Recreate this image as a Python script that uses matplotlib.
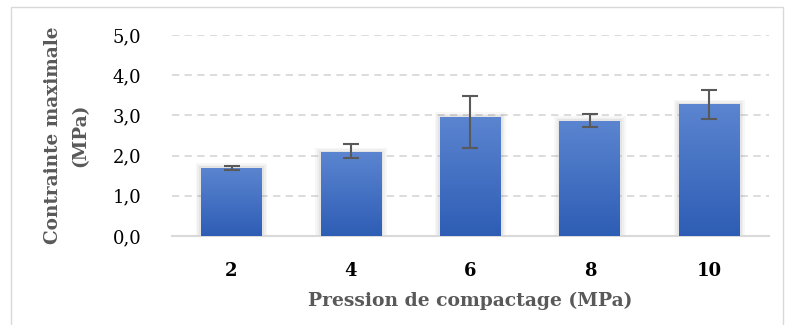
import numpy as np
import matplotlib
matplotlib.use('Agg')
import matplotlib.pyplot as plt
from matplotlib.patches import Rectangle

# pression de compactage (MPa) et contrainte maximale (MPa)
pression = ['2', '4', '6', '8', '10']
contrainte = [1.70, 2.08, 2.97, 2.87, 3.28]
err_bas = [0.06, 0.14, 0.79, 0.16, 0.37]
err_haut = [0.05, 0.21, 0.52, 0.17, 0.35]
yticks = [0.0, 1.0, 2.0, 3.0, 4.0, 5.0]

plt.rcParams['font.family'] = ['DejaVu Serif']

fig = plt.figure(figsize=(7.88, 3.25), dpi=100)
ax = fig.add_axes([0.218, 0.274, 0.758, 0.618])

x = np.arange(len(pression))
w = 0.51

# ombre legere autour des barres
for xi, v in zip(x, contrainte):
    for k, a in [(0.045, 0.05), (0.03, 0.06), (0.015, 0.08)]:
        ax.add_patch(Rectangle((xi - w / 2 - k, 0), w + 2 * k, v + k * 2.5,
                               color='#6f6f6f', alpha=a, lw=0, zorder=2))

bars = ax.bar(x, contrainte, width=w, color='#4472C4', zorder=3)

# degrade vertical dans chaque barre
grad = np.linspace(0, 1, 256).reshape(-1, 1)
cmap = matplotlib.colors.LinearSegmentedColormap.from_list('g', ['#2E5DB5', '#5B85D0'])
for b in bars:
    bx, by = b.get_x(), b.get_y()
    im = ax.imshow(grad, cmap=cmap, aspect='auto', origin='lower',
                   extent=[bx, bx + b.get_width(), by, by + b.get_height()], zorder=3.5)
    im.set_clip_path(b)

ax.errorbar(x, contrainte, yerr=[err_bas, err_haut], fmt='none', ecolor='#595959',
            elinewidth=1.5, capsize=6, capthick=1.5, zorder=5)

ax.set_xlim(-0.5, len(pression) - 0.5)
ax.set_ylim(0, 5)
ax.set_yticks(yticks)
ax.set_yticklabels([f'{t:.1f}'.replace('.', ',') for t in yticks], fontsize=13, color='black')
ax.set_xticks(x)
ax.set_xticklabels(pression, fontsize=13, fontweight='bold', color='black')
ax.tick_params(axis='y', length=0, pad=22)
ax.tick_params(axis='x', length=0, pad=19)

ax.yaxis.grid(True, color='#D9D9D9', linestyle=(0, (4, 3)), linewidth=1.3, zorder=0)
ax.set_axisbelow(True)
for s in ['top', 'right', 'left']:
    ax.spines[s].set_visible(False)
ax.spines['bottom'].set_color('#D9D9D9')
ax.spines['bottom'].set_linewidth(1.5)

ax.set_xlabel('Pression de compactage (MPa)', fontsize=13.5, fontweight='bold', color='#595959', labelpad=8)
ax.set_ylabel('Contrainte maximale\n(MPa)', fontsize=13.3, fontweight='bold', color='#595959',
              labelpad=17, linespacing=1.65)

# cadre du graphique
fig.patches.append(Rectangle((11 / 788, -0.01), 772 / 788, 1 - 7 / 325 + 0.01,
                             transform=fig.transFigure, fill=False, edgecolor='#D9D9D9', lw=1))

fig.savefig('out.png', dpi=100)
